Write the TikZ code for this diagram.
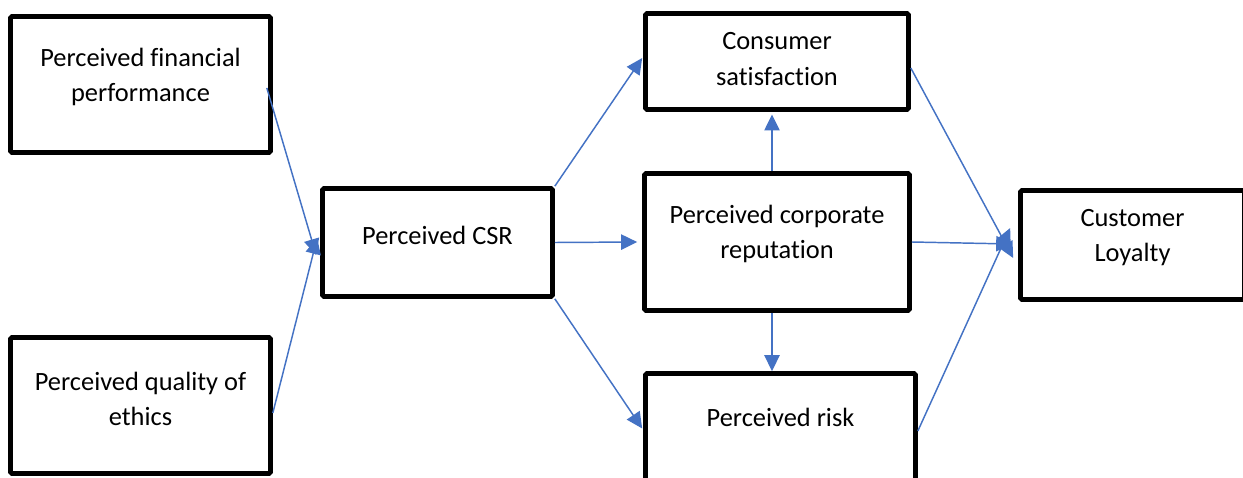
\documentclass[tikz,border=0pt]{standalone}
\usepackage{fontspec}
\setmainfont[Ligatures=NoCommon]{Carlito}
\usetikzlibrary{arrows.meta}

\begin{document}
\begin{tikzpicture}[x=0.75pt,y=0.75pt,yscale=-1,xscale=1,
  box/.style={draw, line width=3.5pt, rounded corners=1pt, inner sep=0pt},
  txt/.style={inner sep=0pt, align=center, font=\fontsize{19.8pt}{26.3pt}\selectfont},
  link/.style={-{Triangle[length=12pt,width=11.5pt]}, draw={rgb,255:red,68;green,114;blue,196}, line width=1.1pt}]
\clip (0,0) rectangle (1243,478);
\fill[white] (0,0) rectangle (1243,478);

% Boxes
\node[box, minimum width=260*0.75pt, minimum height=136*0.75pt] (fin) at (140.5,84.5) {};
\node[box, minimum width=260*0.75pt, minimum height=136*0.75pt] (eth) at (140.5,405.5) {};
\node[box, minimum width=230*0.75pt, minimum height=108*0.75pt] (csr) at (437.5,242.5) {};
\node[box, minimum width=263*0.75pt, minimum height=96*0.75pt] (cons) at (777,61.5) {};
\node[box, minimum width=265*0.75pt, minimum height=137*0.75pt] (rep) at (777,242) {};
\node[box, minimum width=270*0.75pt, minimum height=115*0.75pt] (risk) at (780.5,431) {};
\node[box, minimum width=224*0.75pt, minimum height=109*0.75pt] (loy) at (1132.5,245) {};

% Text Nodes
\node[txt] (fintxt) at (140.5,77) {Perceived financial\\performance};
\node[txt] (ethtxt) at (140.5,399) {Perceived quality of\\ethics};
\node[txt] (csrtxt) at (437.5,235) {Perceived CSR};
\node[txt] (constxt) at (777,59) {Consumer\\satisfaction};
\node[txt] (reptxt) at (777,234) {Perceived corporate\\reputation};
\node[txt] (risktxt) at (780.5,417) {Perceived risk};
\node[txt] (loytxt) at (1132.5,238) {Customer\\Loyalty};

% Arrows
\draw[link] ([xshift=-4.5pt,yshift=2.6pt]fin.east) -- ([xshift=-3pt,yshift=9.4pt]csr.west);
\draw[link] ([yshift=5.6pt]eth.east) -- ([xshift=-2.25pt,yshift=-3.4pt]csr.west);
\draw[link] (csr.north east) -- ([xshift=-0.75pt,yshift=-2.6pt]cons.west);
\draw[link] (csr.east) -- ([xshift=-3.75pt]rep.west);
\draw[link] (csr.south east) -- ([xshift=-0.75pt,yshift=-1.9pt]risk.west);
\draw[link, shorten >=2pt] ([xshift=-3.75pt]rep.north) -- ([xshift=-3.75pt]cons.south);
\draw[link] ([xshift=-3.75pt]rep.south) -- ([xshift=-3.75pt]rep.south |- risk.north);
\draw[link] ([yshift=4.9pt]cons.east) -- ([xshift=-3.75pt,yshift=9.75pt]loy.west);
\draw[link] (rep.east) -- ([xshift=-4.5pt,yshift=-0.75pt]loy.west);
\draw[link] (risk.east) -- ([xshift=-6pt,yshift=-12.75pt]loy.west);

\end{tikzpicture}
\end{document}
